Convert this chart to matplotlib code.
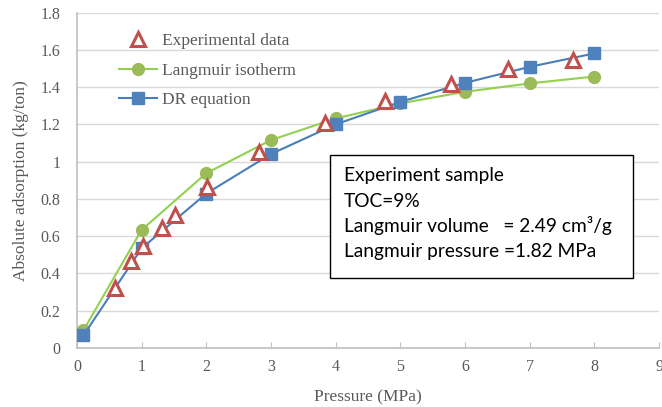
import matplotlib
matplotlib.use("Agg")
import matplotlib.pyplot as plt
from matplotlib.patches import Rectangle

# Langmuir isotherm (green)
p_lang = [0.1, 1, 2, 3, 4, 5, 6, 7, 8]
v_lang = [0.095, 0.634, 0.938, 1.116, 1.232, 1.313, 1.375, 1.420, 1.457]

# DR equation (blue)
p_dr = [0.1, 1, 2, 3, 4, 5, 6, 7, 8]
v_dr = [0.068, 0.535, 0.829, 1.041, 1.200, 1.321, 1.423, 1.509, 1.581]

# experimental data (red triangles)
p_exp = [0.59, 0.84, 1.02, 1.32, 1.51, 2.01, 2.82, 3.84, 4.77, 5.79, 6.67, 7.67]
v_exp = [0.323, 0.466, 0.545, 0.643, 0.714, 0.865, 1.054, 1.206, 1.325, 1.416, 1.495, 1.548]

xticks = [0, 1, 2, 3, 4, 5, 6, 7, 8, 9]
yticks = [0, 0.2, 0.4, 0.6, 0.8, 1, 1.2, 1.4, 1.6, 1.8]
ytick_labels = ["0", "0.2", "0.4", "0.6", "0.8", "1", "1.2", "1.4", "1.6", "1.8"]

box_lines = ["Experiment sample", "TOC=9%",
             "Langmuir volume   = 2.49 cm\u00b3/g",
             "Langmuir pressure =1.82 MPa"]

serif = "Liberation Serif"
grey = "#595959"

fig = plt.figure(figsize=(6.62, 4.07), dpi=100)
ax = fig.add_axes([0.1163, 0.145, 0.8792, 0.824])

ax.plot(p_exp, v_exp, linestyle="none", marker="^", markersize=10,
        markerfacecolor="white", markeredgecolor="#c0504d", markeredgewidth=2.2,
        label="Experimental data", zorder=4)
ax.plot(p_lang, v_lang, color="#92d050", lw=1.5, marker="o", markersize=8.5,
        markerfacecolor="#9bbb59", markeredgecolor="#9bbb59",
        label="Langmuir isotherm", zorder=3)
ax.plot(p_dr, v_dr, color="#4a7ebb", lw=1.5, marker="s", markersize=8,
        markerfacecolor="#4f81bd", markeredgecolor="#4f81bd",
        label="DR equation", zorder=3)

ax.set_xlim(0, 9)
ax.set_ylim(0, 1.8)
ax.set_xticks(xticks)
ax.set_yticks(yticks)
ax.set_yticklabels(ytick_labels)
ax.grid(axis="y", color="#d9d9d9", lw=1)
ax.set_axisbelow(True)

for s in ["top", "right"]:
    ax.spines[s].set_visible(False)
for s in ["left", "bottom"]:
    ax.spines[s].set_color("#bfbfbf")
    ax.spines[s].set_linewidth(1.2)

ax.tick_params(axis="x", direction="in", length=4, color="#bfbfbf",
               labelsize=11.5, labelcolor=grey, pad=8)
ax.tick_params(axis="y", length=0, labelsize=11.5, labelcolor=grey, pad=12)
for lab in ax.get_xticklabels() + ax.get_yticklabels():
    lab.set_fontfamily(serif)

ax.set_xlabel("Pressure (MPa)", fontsize=12.5, family=serif, color=grey, labelpad=10)
ax.set_ylabel("Absolute adsorption (kg/ton)", fontsize=12.5, family=serif,
              color=grey, labelpad=8)

leg = ax.legend(loc="upper left", bbox_to_anchor=(0.045, 0.985), frameon=False,
                prop={"family": serif, "size": 12.5}, labelspacing=0.75,
                handlelength=2.2, handletextpad=0.3)
for t in leg.get_texts():
    t.set_color(grey)

# annotation box
ax.add_patch(Rectangle((0.4347, 0.2097), 0.5206, 0.3663, transform=ax.transAxes,
                       facecolor="white", edgecolor="black", lw=1, zorder=5))
for i, line in enumerate(box_lines):
    ax.text(0.4588, 0.4966 - i * 0.0752, line, transform=ax.transAxes,
            fontsize=13.8, family="Lato", va="baseline", ha="left", zorder=6)

fig.savefig("out.png", dpi=100)
